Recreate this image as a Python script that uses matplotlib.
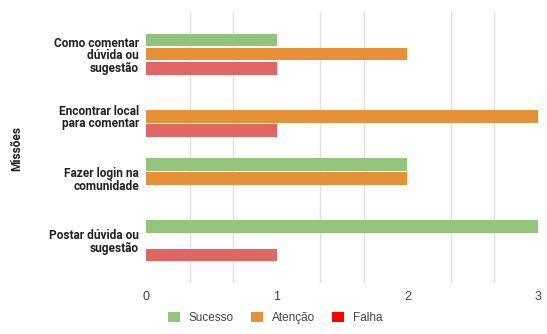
import numpy as np
import matplotlib
matplotlib.use('Agg')
import matplotlib.pyplot as plt
from matplotlib.patches import Patch

# dados do gráfico
missoes = ['Como comentar\ndúvida ou\nsugestão',
           'Encontrar local\npara comentar',
           'Fazer login na\ncomunidade',
           'Postar dúvida ou\nsugestão']
sucesso = [1, 0, 2, 3]
atencao = [2, 3, 2, 0]
falha = [1, 1, 0, 1]
series_nomes = ['Sucesso', 'Atenção', 'Falha']
eixo_x_ticks = [0, 1, 2, 3]
grade_x = [1/3, 2/3, 4/3, 5/3, 7/3, 8/3]

cores_barras = ['#93c47d', '#e69138', '#e06666']
cores_legenda = ['#93c47d', '#e69138', '#ff0000']

plt.rcParams['font.family'] = ['Liberation Sans', 'DejaVu Sans']

fig = plt.figure(figsize=(5.47, 3.34), dpi=100)
ax = fig.add_axes([0.2669, 0.1527, 0.7166, 0.8114])

y = np.arange(len(missoes))
passo = 0.226
altura = 0.194
for i, valores in enumerate([sucesso, atencao, falha]):
    ax.barh(y + (i - 1) * passo, valores, height=altura, color=cores_barras[i], zorder=3)

ax.set_xlim(0, 3)
ax.set_ylim(3.685, -0.685)
ax.set_xticks(eixo_x_ticks)
ax.set_xticklabels([str(v) for v in eixo_x_ticks], fontsize=9, color='#444444')
ax.set_xticks(grade_x, minor=True)
ax.grid(False)
ax.grid(True, which='minor', axis='x', color='#e0e0e0', linewidth=1, zorder=0)
ax.tick_params(axis='x', which='both', length=0, pad=6)
ax.tick_params(axis='y', length=0, pad=5)

ax.set_yticks(y)
ax.set_yticklabels(missoes, fontsize=8.6, fontweight='bold', family='Roboto',
                   color='#222222', linespacing=0.95)

for lado in ax.spines.values():
    lado.set_visible(False)

fig.text(0.03, 0.5566, 'Missões', rotation=90, fontsize=8.6, fontweight='bold',
         family='Roboto', color='#222222', ha='center', va='center')

handles = [Patch(facecolor=c, edgecolor='none') for c in cores_legenda]
fig.legend(handles, series_nomes, loc='center', bbox_to_anchor=(0.503, 0.048),
           ncol=3, frameon=False, fontsize=8.5, handlelength=1.0, handleheight=1.0,
           handletextpad=0.75, columnspacing=1.45, labelcolor='#444444')

fig.savefig('out.png', dpi=100)
